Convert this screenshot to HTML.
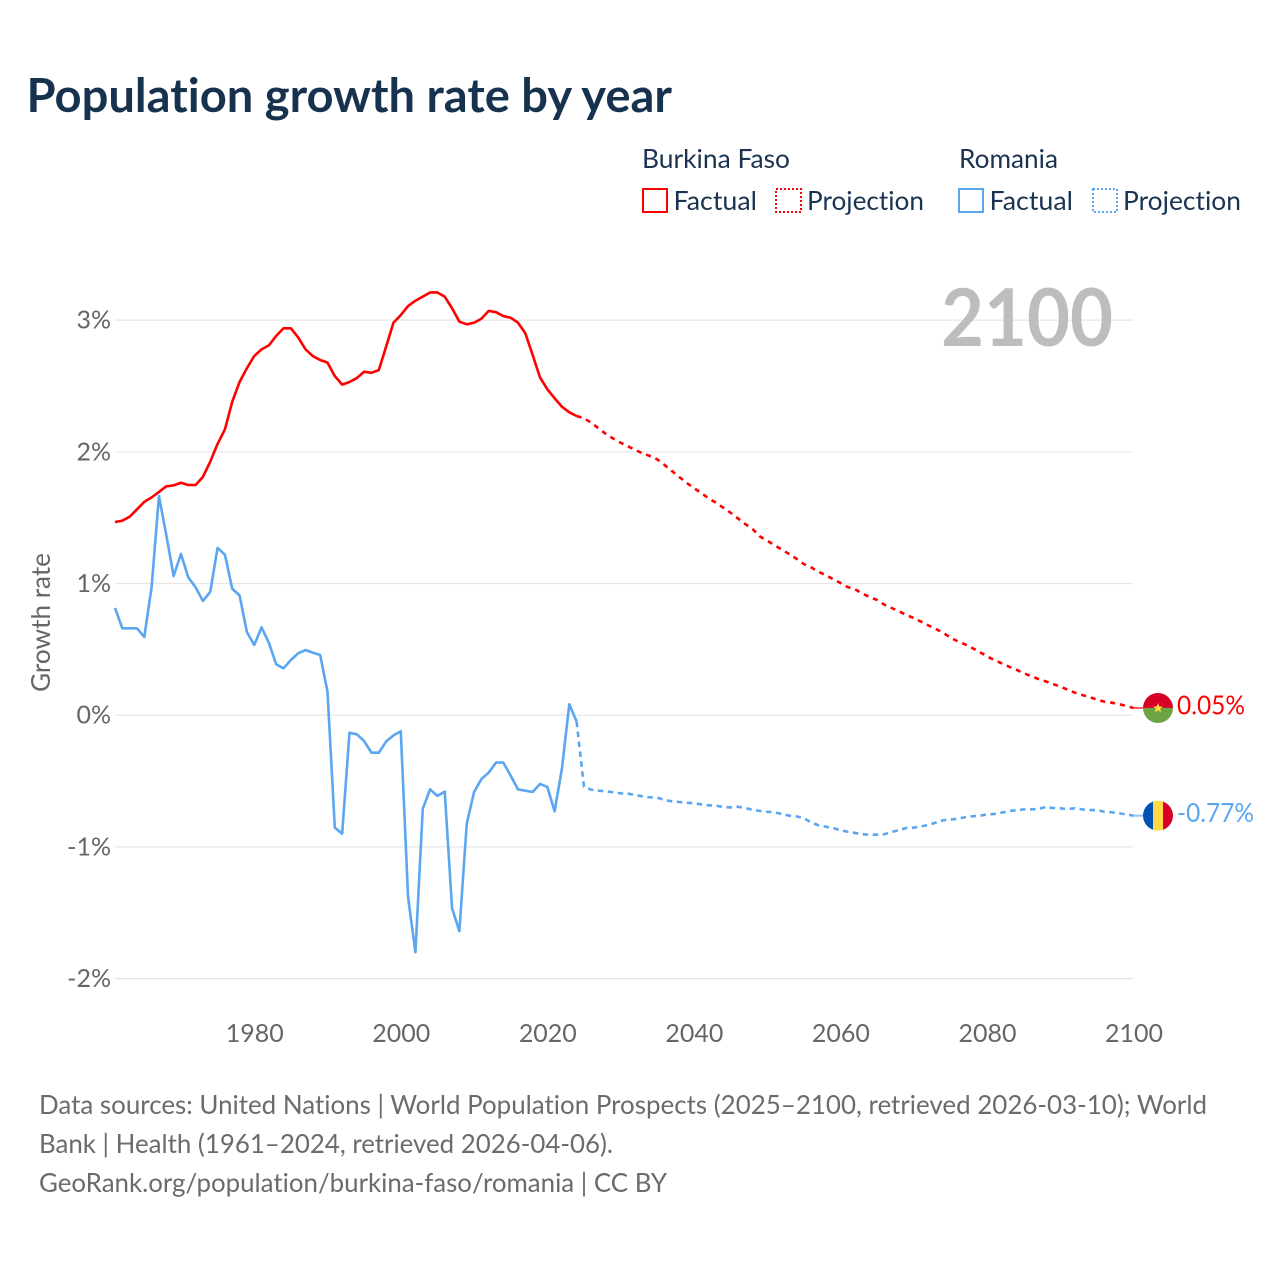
<!DOCTYPE html>
<html lang="en">
<head>
<meta charset="utf-8">
<title>Population growth rate by year</title>
<style>
html,body{margin:0;padding:0;background:#fff;}
svg{display:block;}
text{font-family:"Lato","Carlito","Liberation Sans",sans-serif;font-variant-ligatures:none;}
</style>
</head>
<body>
<svg id="chart" xmlns="http://www.w3.org/2000/svg" width="1280" height="1280" viewBox="0 0 1280 1280">
  <rect width="1280" height="1280" fill="#fff"/>
  <text x="26.5" y="112" font-size="47" font-weight="700" fill="#17324f" textLength="645.5" lengthAdjust="spacingAndGlyphs">Population growth rate by year</text>

  <g font-size="26" fill="#1b3351">
    <text x="642" y="168" textLength="148" lengthAdjust="spacingAndGlyphs">Burkina Faso</text>
    <text x="959" y="168" textLength="99" lengthAdjust="spacingAndGlyphs">Romania</text>
    <rect x="643" y="189" width="24" height="23" fill="none" stroke="#ff0000" stroke-width="2"/>
    <text x="673.5" y="210" textLength="83.5" lengthAdjust="spacingAndGlyphs">Factual</text>
    <rect x="776" y="189" width="25" height="23" fill="none" stroke="#ff0000" stroke-width="2" stroke-dasharray="2 2"/>
    <text x="807" y="210" textLength="117" lengthAdjust="spacingAndGlyphs">Projection</text>
    <rect x="959" y="189" width="24" height="23" fill="none" stroke="#5aa6f0" stroke-width="2"/>
    <text x="989.5" y="210" textLength="83.5" lengthAdjust="spacingAndGlyphs">Factual</text>
    <rect x="1093" y="189" width="24" height="23" fill="none" stroke="#5aa6f0" stroke-width="2" stroke-dasharray="2 2"/>
    <text x="1123" y="210" textLength="118" lengthAdjust="spacingAndGlyphs">Projection</text>
  </g>

  <g id="grid"></g>
  <g id="ylabels" font-size="25" fill="#666" text-anchor="end"></g>
  <g id="xlabels" font-size="25" fill="#666" text-anchor="middle"></g>
  <text transform="translate(50 692) rotate(-90)" font-size="26" fill="#666" textLength="139" lengthAdjust="spacingAndGlyphs">Growth rate</text>
  <text x="941" y="346" font-size="80" font-weight="700" fill="#bdbdbd" textLength="172" lengthAdjust="spacingAndGlyphs">2100</text>

  <g id="series"></g>

  <g id="flag-bf">
    <clipPath id="clip-bf"><circle cx="0" cy="0" r="15"/></clipPath>
    <g clip-path="url(#clip-bf)">
      <rect x="-15" y="-15" width="30" height="15" fill="#d80027"/>
      <rect x="-15" y="0" width="30" height="15" fill="#6da544"/>
    </g>
    <polygon transform="scale(1.25)" points="0,-4 1.1,-1.2 4,-1.2 1.7,0.6 2.5,3.5 0,1.8 -2.5,3.5 -1.7,0.6 -4,-1.2 -1.1,-1.2" fill="#ffda44"/>
  </g>
  <g id="flag-ro">
    <clipPath id="clip-ro"><circle cx="0" cy="0" r="15"/></clipPath>
    <g clip-path="url(#clip-ro)">
      <rect x="-15" y="-15" width="10" height="30" fill="#0052b4"/>
      <rect x="-5" y="-15" width="10" height="30" fill="#ffda44"/>
      <rect x="5" y="-15" width="10" height="30" fill="#d80027"/>
    </g>
  </g>

  <g id="end-labels" font-size="26"></g>

  <g font-size="26" fill="#6b6b6b">
    <text x="39" y="1114" textLength="1168" lengthAdjust="spacingAndGlyphs">Data sources: United Nations | World Population Prospects (2025–2100, retrieved 2026-03-10); World</text>
    <text x="39" y="1153" textLength="574" lengthAdjust="spacingAndGlyphs">Bank | Health (1961–2024, retrieved 2026-04-06).</text>
    <text x="39" y="1192" textLength="628" lengthAdjust="spacingAndGlyphs">GeoRank.org/population/burkina-faso/romania | CC BY</text>
  </g>
</svg>
<script>
const yTicks = [3, 2, 1, 0, -1, -2];
const xTicks = [1980, 2000, 2020, 2040, 2060, 2080, 2100];
const factualStartYear = 1961;
const projectionStartYear = 2024;
const burkinaFactual = [1.467,1.477,1.507,1.563,1.62,1.654,1.695,1.738,1.745,1.765,1.748,1.748,1.81,1.925,2.06,2.17,2.38,2.53,2.634,2.727,2.778,2.808,2.88,2.938,2.938,2.868,2.778,2.727,2.697,2.677,2.575,2.51,2.53,2.56,2.608,2.6,2.62,2.798,2.98,3.038,3.107,3.147,3.178,3.21,3.21,3.178,3.09,2.988,2.968,2.98,3.01,3.07,3.06,3.03,3.018,2.98,2.9,2.735,2.565,2.475,2.406,2.342,2.3,2.272];
const romaniaFactual = [0.814,0.66,0.66,0.66,0.594,0.976,1.664,1.368,1.057,1.224,1.047,0.971,0.867,0.938,1.27,1.219,0.96,0.91,0.632,0.533,0.667,0.55,0.386,0.356,0.419,0.47,0.495,0.475,0.457,0.178,-0.854,-0.9,-0.133,-0.145,-0.196,-0.285,-0.285,-0.2,-0.153,-0.122,-1.383,-1.8,-0.712,-0.563,-0.613,-0.58,-1.466,-1.64,-0.826,-0.583,-0.485,-0.436,-0.36,-0.36,-0.46,-0.563,-0.573,-0.583,-0.522,-0.545,-0.73,-0.403,0.083,-0.049];
const burkinaProjection = [2.272,2.254,2.221,2.178,2.135,2.1,2.069,2.042,2.014,1.988,1.968,1.943,1.9,1.854,1.809,1.765,1.725,1.687,1.647,1.614,1.576,1.538,1.495,1.452,1.414,1.358,1.325,1.292,1.257,1.224,1.188,1.148,1.123,1.09,1.062,1.034,1.004,0.973,0.956,0.923,0.897,0.875,0.839,0.814,0.789,0.761,0.738,0.71,0.682,0.655,0.627,0.589,0.561,0.538,0.51,0.48,0.447,0.419,0.394,0.368,0.346,0.318,0.298,0.275,0.257,0.237,0.217,0.194,0.171,0.153,0.138,0.118,0.103,0.095,0.085,0.07,0.055];
const romaniaProjection = [-0.049,-0.543,-0.566,-0.573,-0.578,-0.585,-0.593,-0.596,-0.606,-0.616,-0.624,-0.626,-0.644,-0.654,-0.659,-0.664,-0.669,-0.677,-0.684,-0.687,-0.697,-0.7,-0.695,-0.705,-0.718,-0.727,-0.733,-0.737,-0.75,-0.763,-0.768,-0.783,-0.813,-0.836,-0.847,-0.856,-0.874,-0.885,-0.894,-0.904,-0.907,-0.907,-0.904,-0.887,-0.872,-0.856,-0.854,-0.844,-0.834,-0.816,-0.798,-0.793,-0.786,-0.775,-0.768,-0.763,-0.755,-0.75,-0.74,-0.727,-0.722,-0.715,-0.715,-0.712,-0.697,-0.705,-0.707,-0.712,-0.707,-0.715,-0.72,-0.72,-0.733,-0.737,-0.745,-0.753,-0.763];
const burkinaEndLabel = "0.05%";
const romaniaEndLabel = "-0.77%";

const NS = "http://www.w3.org/2000/svg";
function xScale(year) { return 115 + (year - 1961) * (1133.5 - 115) / (2100 - 1961); }
function yScale(v) { return 715.2 - v * 131.7; }
function linePath(values, startYear) {
  return values.map(function (v, i) {
    return (i ? "L" : "M") + xScale(startYear + i).toFixed(2) + " " + yScale(v).toFixed(2);
  }).join(" ");
}

const grid = document.getElementById("grid");
const ylabels = document.getElementById("ylabels");
yTicks.forEach(function (t) {
  const line = document.createElementNS(NS, "line");
  
  
  line.setAttribute("x1", 115);
  line.setAttribute("x2", 1133);
  line.setAttribute("y1", yScale(t));
  line.setAttribute("y2", yScale(t));
  line.setAttribute("stroke", "#e6e6e6");
  line.setAttribute("stroke-width", "1.2");
  grid.appendChild(line);
  const label = document.createElementNS(NS, "text");
  
  
  label.setAttribute("x", 111);
  label.setAttribute("y", yScale(t) + 8.5);
  label.textContent = t + "%";
  ylabels.appendChild(label);
});

const xlabels = document.getElementById("xlabels");
xTicks.forEach(function (t) {
  const label = document.createElementNS(NS, "text");
  
  
  label.setAttribute("x", xScale(t) + 0.5);
  label.setAttribute("y", 1042);
  label.setAttribute("textLength", "58");
  label.setAttribute("lengthAdjust", "spacingAndGlyphs");
  label.textContent = t;
  xlabels.appendChild(label);
});

const seriesGroup = document.getElementById("series");
const RED = "#ff0000";
const BLUE = "#5aa6f0";
const LINE_WIDTH = "2.6";

const burkinaFactualLine = document.createElementNS(NS, "path");


burkinaFactualLine.setAttribute("d", linePath(burkinaFactual, factualStartYear));
burkinaFactualLine.setAttribute("fill", "none");
burkinaFactualLine.setAttribute("stroke", RED);
burkinaFactualLine.setAttribute("stroke-width", LINE_WIDTH);
burkinaFactualLine.setAttribute("stroke-linejoin", "round");
seriesGroup.appendChild(burkinaFactualLine);

const burkinaProjectionLine = document.createElementNS(NS, "path");


burkinaProjectionLine.setAttribute("d", linePath(burkinaProjection, projectionStartYear));
burkinaProjectionLine.setAttribute("fill", "none");
burkinaProjectionLine.setAttribute("stroke", RED);
burkinaProjectionLine.setAttribute("stroke-width", LINE_WIDTH);
burkinaProjectionLine.setAttribute("stroke-dasharray", "5 5");
seriesGroup.appendChild(burkinaProjectionLine);

const romaniaFactualLine = document.createElementNS(NS, "path");


romaniaFactualLine.setAttribute("d", linePath(romaniaFactual, factualStartYear));
romaniaFactualLine.setAttribute("fill", "none");
romaniaFactualLine.setAttribute("stroke", BLUE);
romaniaFactualLine.setAttribute("stroke-width", LINE_WIDTH);
romaniaFactualLine.setAttribute("stroke-linejoin", "round");
seriesGroup.appendChild(romaniaFactualLine);

const romaniaProjectionLine = document.createElementNS(NS, "path");


romaniaProjectionLine.setAttribute("d", linePath(romaniaProjection, projectionStartYear));
romaniaProjectionLine.setAttribute("fill", "none");
romaniaProjectionLine.setAttribute("stroke", BLUE);
romaniaProjectionLine.setAttribute("stroke-width", LINE_WIDTH);
romaniaProjectionLine.setAttribute("stroke-dasharray", "5.5 4.5");
seriesGroup.appendChild(romaniaProjectionLine);

const flagX = 1158;
const burkinaLast = burkinaProjection[burkinaProjection.length - 1];
const romaniaLast = romaniaProjection[romaniaProjection.length - 1];

const burkinaConnector = document.createElementNS(NS, "line");


burkinaConnector.setAttribute("x1", xScale(2100) - 1);
burkinaConnector.setAttribute("x2", flagX - 15);
burkinaConnector.setAttribute("y1", yScale(burkinaLast));
burkinaConnector.setAttribute("y2", yScale(burkinaLast));
burkinaConnector.setAttribute("stroke", RED);
burkinaConnector.setAttribute("stroke-width", "2");
burkinaConnector.setAttribute("opacity", "0.65");
seriesGroup.appendChild(burkinaConnector);

const romaniaConnector = document.createElementNS(NS, "line");


romaniaConnector.setAttribute("x1", xScale(2100) - 1);
romaniaConnector.setAttribute("x2", flagX - 15);
romaniaConnector.setAttribute("y1", yScale(romaniaLast));
romaniaConnector.setAttribute("y2", yScale(romaniaLast));
romaniaConnector.setAttribute("stroke", BLUE);
romaniaConnector.setAttribute("stroke-width", "2");
romaniaConnector.setAttribute("opacity", "0.65");
seriesGroup.appendChild(romaniaConnector);

document.getElementById("flag-bf").setAttribute("transform", "translate(" + flagX + " " + yScale(burkinaLast) + ")");
document.getElementById("flag-ro").setAttribute("transform", "translate(" + flagX + " " + yScale(romaniaLast) + ")");

const endLabels = document.getElementById("end-labels");

const burkinaLabel = document.createElementNS(NS, "text");


burkinaLabel.setAttribute("x", 1177);
burkinaLabel.setAttribute("y", yScale(burkinaLast) + 6.5);
burkinaLabel.setAttribute("fill", RED);
burkinaLabel.setAttribute("textLength", "68");
burkinaLabel.setAttribute("lengthAdjust", "spacingAndGlyphs");
burkinaLabel.textContent = burkinaEndLabel;
endLabels.appendChild(burkinaLabel);

const romaniaLabel = document.createElementNS(NS, "text");


romaniaLabel.setAttribute("x", 1177);
romaniaLabel.setAttribute("y", yScale(romaniaLast) + 6.5);
romaniaLabel.setAttribute("fill", BLUE);
romaniaLabel.setAttribute("textLength", "77");
romaniaLabel.setAttribute("lengthAdjust", "spacingAndGlyphs");
romaniaLabel.textContent = romaniaEndLabel;
endLabels.appendChild(romaniaLabel);
</script>
</body>
</html>
